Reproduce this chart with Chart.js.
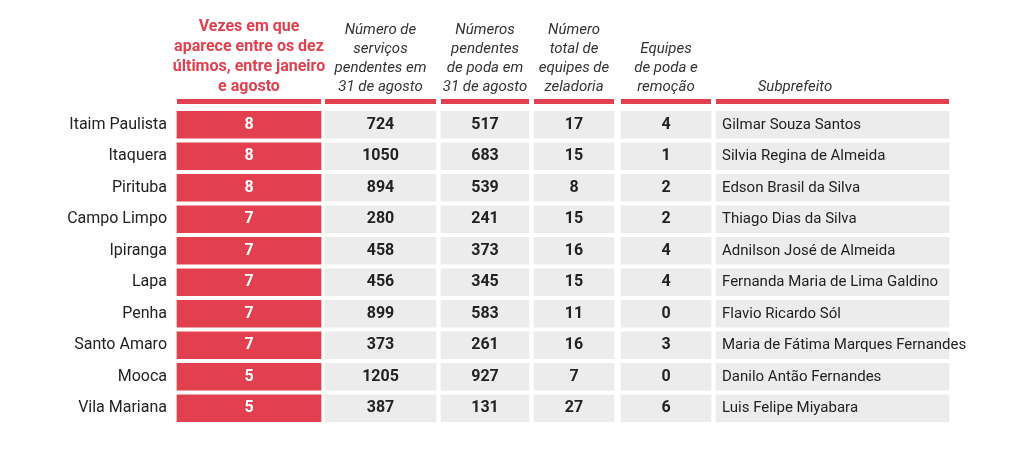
<!DOCTYPE html>
<html><head><meta charset="utf-8">
<script src="https://cdn.jsdelivr.net/npm/chart.js@4"></script>
<style>html,body{margin:0;padding:0;background:#fff}#w{width:1024px;height:452px}</style>
</head><body><div id="w"><canvas id="c"></canvas></div>
<script>
const regioes=["Itaim Paulista","Itaquera","Pirituba","Campo Limpo","Ipiranga","Lapa","Penha","Santo Amaro","Mooca","Vila Mariana"];
const vezes=[8,8,8,7,7,7,7,7,5,5];
const servicos=[724,1050,894,280,458,456,899,373,1205,387];
const poda=[517,683,539,241,373,345,583,261,927,131];
const zeladoria=[17,15,8,15,16,15,11,16,7,27];
const equipesPoda=[4,1,2,2,4,4,0,3,0,6];
const subprefeito=["Gilmar Souza Santos","Silvia Regina de Almeida","Edson Brasil da Silva","Thiago Dias da Silva","Adnilson José de Almeida","Fernanda Maria de Lima Galdino","Flavio Ricardo Sól","Maria de Fátima Marques Fernandes","Danilo Antão Fernandes","Luis Felipe Miyabara"];
const headers=[["Vezes em que","aparece entre os dez","últimos, entre janeiro","e agosto"],["Número de","serviços","pendentes em","31 de agosto"],["Números","pendentes","de poda em","31 de agosto"],["Número","total de","equipes de","zeladoria"],["Equipes","de poda e","remoção"],["Subprefeito"]];
// layout (column spans in px)
const cols=[[177,321],[325,436],[441,529],[534,614],[621,711],[716,949]];
const colVals=[vezes,servicos,poda,zeladoria,equipesPoda,subprefeito];
const F='"Liberation Sans Narrow","Roboto",sans-serif';
const datasets=cols.map((c,i)=>({data:regioes.map(()=>[c[0],c[1]]),backgroundColor:i===0?'#e2404f':'#ececec',barThickness:27,grouped:false,borderWidth:0}));
const textPlugin={id:'t',afterDatasetsDraw(ch){
 const ctx=ch.ctx,y=ch.scales.y;ctx.save();ctx.textBaseline='middle';
 regioes.forEach((r,k)=>{const yy=y.getPixelForValue(k);
  ctx.font='16px '+F;ctx.fillStyle='#222';ctx.textAlign='right';ctx.fillText(r,167,yy);
  colVals.forEach((v,i)=>{const c=cols[i];
   if(i===5){ctx.font='15px '+F;ctx.fillStyle='#222';ctx.textAlign='left';ctx.fillText(v[k],722,yy);}
   else{ctx.font='bold 16px '+F;ctx.fillStyle=i===0?'#fff':'#222';ctx.textAlign='center';ctx.fillText(v[k],(c[0]+c[1])/2,yy);}
  });
 });
 headers.forEach((h,i)=>{const c=cols[i];const cx=(c[0]+c[1])/2;
  ctx.fillStyle='#e2404f';ctx.fillRect(c[0],99,c[1]-c[0],5);
  ctx.textAlign='center';
  ctx.font=(i===0?'bold 16px ':'italic 15px ')+F;ctx.fillStyle=i===0?'#e2404f':'#333';
  const lh=i===0?20:19;const n=h.length;
  h.forEach((t,j)=>ctx.fillText(t,i===5?795:cx,87-(n-1-j)*lh));
 });
 ctx.restore();}};
new Chart(document.getElementById('c'),{type:'bar',data:{labels:regioes,datasets},
 options:{indexAxis:'y',responsive:true,maintainAspectRatio:false,animation:false,
  layout:{padding:{top:109,bottom:28,left:0,right:0}},
  plugins:{legend:{display:false},tooltip:{enabled:false}},
  scales:{x:{type:'linear',min:0,max:1024,display:false},y:{display:false,offset:true}}},
 plugins:[textPlugin]});
</script></body></html>
